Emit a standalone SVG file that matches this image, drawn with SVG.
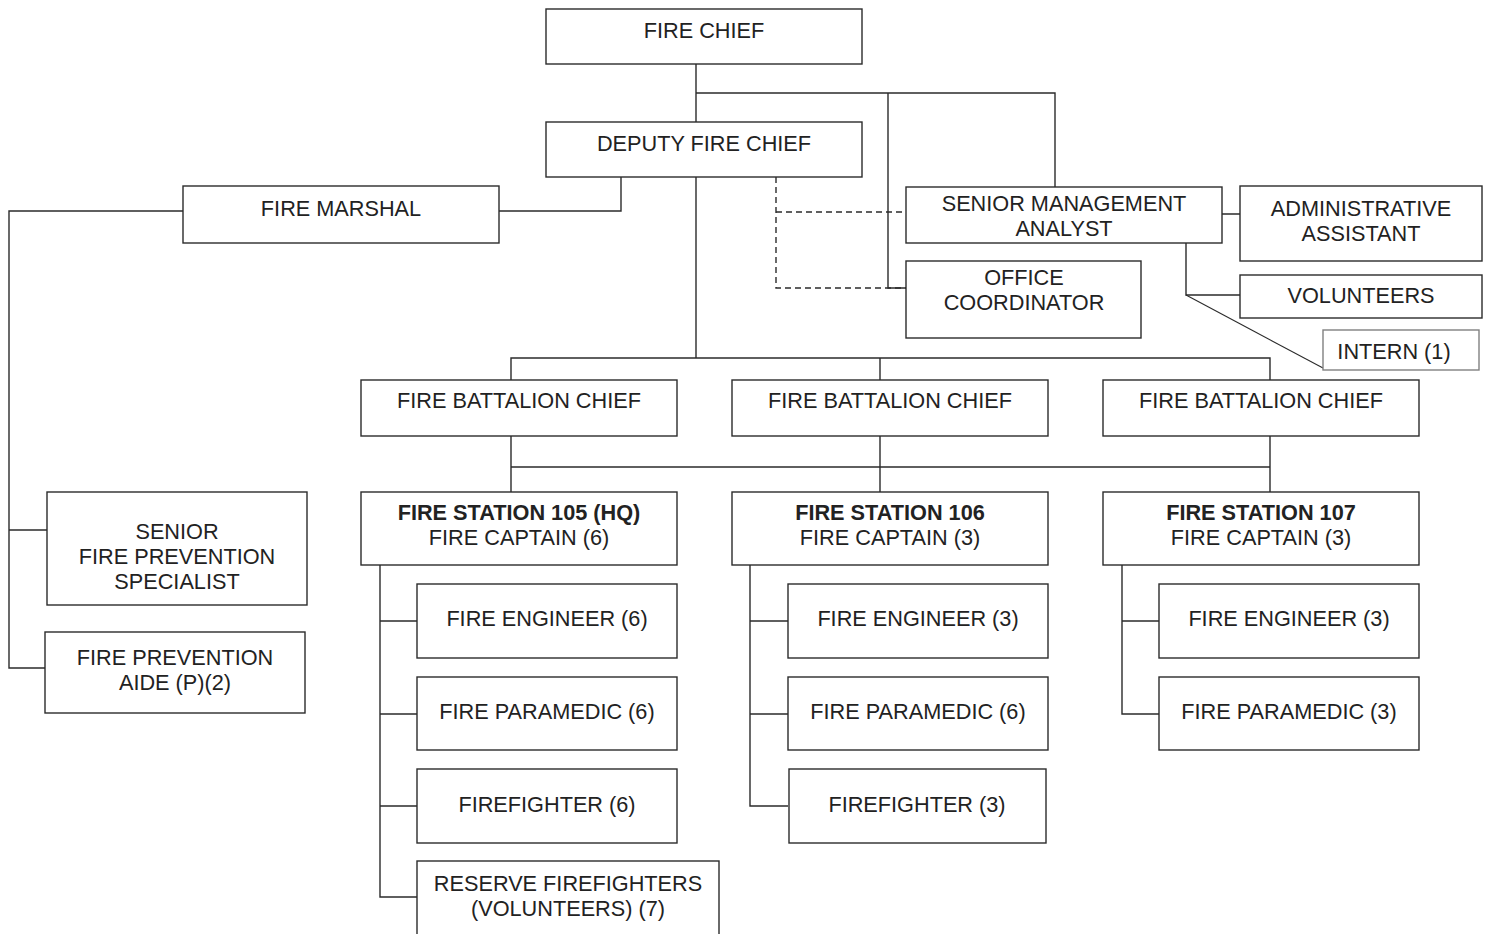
<svg xmlns="http://www.w3.org/2000/svg" width="1488" height="934" viewBox="0 0 1488 934">
<style>
.n rect{fill:#fff;stroke:#2b2b2b;stroke-width:1.4}
.n text{font-family:"Liberation Sans",Arial,sans-serif;font-size:21.7px;fill:#222;text-anchor:middle}
.b{font-weight:bold}
.c path{fill:none;stroke:#2b2b2b;stroke-width:1.4}
.c .d{stroke-dasharray:6 4}
.c .t{stroke-width:1.1}
</style>
<rect width="1488" height="934" fill="#fff"/>
<g class="c" id="connectors">
<path d="M696 64V122M696 93H1055V187M888 93V288H906"/>
<path d="M621 177V211H499"/>
<path d="M696 177V358M511 380V358H1270V380M880 358V380"/>
<path class="d" d="M776 177V288H906M776 212H906"/>
<path d="M183 211H9V668H45M9 530H47"/>
<path d="M1222 214H1240M1186 243V295H1240"/>
<path class="t" d="M1186 295L1323 368"/>
<path d="M511 436V492M880 436V492M1270 436V492M511 467H1270"/>
<path d="M380 565V897H417M380 621H417M380 714H417M380 806H417"/>
<path d="M750 565V806H788M750 621H788M750 714H788"/>
<path d="M1122 565V714H1159M1122 621H1159"/>
</g>
<g class="n" id="fire-chief"><rect x="546" y="9" width="316" height="55"/><text x="704" y="38">FIRE CHIEF</text></g>
<g class="n" id="deputy-fire-chief"><rect x="546" y="122" width="316" height="55"/><text x="704" y="151">DEPUTY FIRE CHIEF</text></g>
<g class="n" id="fire-marshal"><rect x="183" y="186" width="316" height="57"/><text x="341" y="216">FIRE MARSHAL</text></g>
<g class="n" id="senior-management-analyst"><rect x="906" y="187" width="316" height="56"/><text x="1064" y="211">SENIOR MANAGEMENT</text><text x="1064" y="236">ANALYST</text></g>
<g class="n" id="administrative-assistant"><rect x="1240" y="186" width="242" height="75"/><text x="1361" y="216">ADMINISTRATIVE</text><text x="1361" y="241">ASSISTANT</text></g>
<g class="n" id="office-coordinator"><rect x="906" y="261" width="235" height="77"/><text x="1024" y="285">OFFICE</text><text x="1024" y="310">COORDINATOR</text></g>
<g class="n" id="volunteers"><rect x="1240" y="275" width="242" height="43"/><text x="1361" y="303">VOLUNTEERS</text></g>
<g class="n" id="intern"><rect x="1323" y="330" width="156" height="40" style="stroke:#808080"/><text x="1394" y="359">INTERN (1)</text></g>
<g class="n" id="senior-fire-prevention-specialist"><rect x="47" y="492" width="260" height="113"/><text x="177" y="539">SENIOR</text><text x="177" y="564">FIRE PREVENTION</text><text x="177" y="589">SPECIALIST</text></g>
<g class="n" id="fire-prevention-aide"><rect x="45" y="632" width="260" height="81"/><text x="175" y="665">FIRE PREVENTION</text><text x="175" y="690">AIDE (P)(2)</text></g>
<g class="n" id="battalion-chief-1"><rect x="361" y="380" width="316" height="56"/><text x="519" y="408">FIRE BATTALION CHIEF</text></g>
<g class="n" id="battalion-chief-2"><rect x="732" y="380" width="316" height="56"/><text x="890" y="408">FIRE BATTALION CHIEF</text></g>
<g class="n" id="battalion-chief-3"><rect x="1103" y="380" width="316" height="56"/><text x="1261" y="408">FIRE BATTALION CHIEF</text></g>
<g class="n" id="station-105"><rect x="361" y="492" width="316" height="73"/><text class="b" x="519" y="520">FIRE STATION 105 (HQ)</text><text x="519" y="545">FIRE CAPTAIN (6)</text></g>
<g class="n" id="station-106"><rect x="732" y="492" width="316" height="73"/><text class="b" x="890" y="520">FIRE STATION 106</text><text x="890" y="545">FIRE CAPTAIN (3)</text></g>
<g class="n" id="station-107"><rect x="1103" y="492" width="316" height="73"/><text class="b" x="1261" y="520">FIRE STATION 107</text><text x="1261" y="545">FIRE CAPTAIN (3)</text></g>
<g class="n" id="s105-engineer"><rect x="417" y="584" width="260" height="74"/><text x="547" y="626">FIRE ENGINEER (6)</text></g>
<g class="n" id="s105-paramedic"><rect x="417" y="677" width="260" height="73"/><text x="547" y="719">FIRE PARAMEDIC (6)</text></g>
<g class="n" id="s105-firefighter"><rect x="417" y="769" width="260" height="74"/><text x="547" y="812">FIREFIGHTER (6)</text></g>
<g class="n" id="s105-reserve"><rect x="417" y="861" width="302" height="80"/><text x="568" y="891">RESERVE FIREFIGHTERS</text><text x="568" y="916">(VOLUNTEERS) (7)</text></g>
<g class="n" id="s106-engineer"><rect x="788" y="584" width="260" height="74"/><text x="918" y="626">FIRE ENGINEER (3)</text></g>
<g class="n" id="s106-paramedic"><rect x="788" y="677" width="260" height="73"/><text x="918" y="719">FIRE PARAMEDIC (6)</text></g>
<g class="n" id="s106-firefighter"><rect x="789" y="769" width="257" height="74"/><text x="917" y="812">FIREFIGHTER (3)</text></g>
<g class="n" id="s107-engineer"><rect x="1159" y="584" width="260" height="74"/><text x="1289" y="626">FIRE ENGINEER (3)</text></g>
<g class="n" id="s107-paramedic"><rect x="1159" y="677" width="260" height="73"/><text x="1289" y="719">FIRE PARAMEDIC (3)</text></g>
</svg>
